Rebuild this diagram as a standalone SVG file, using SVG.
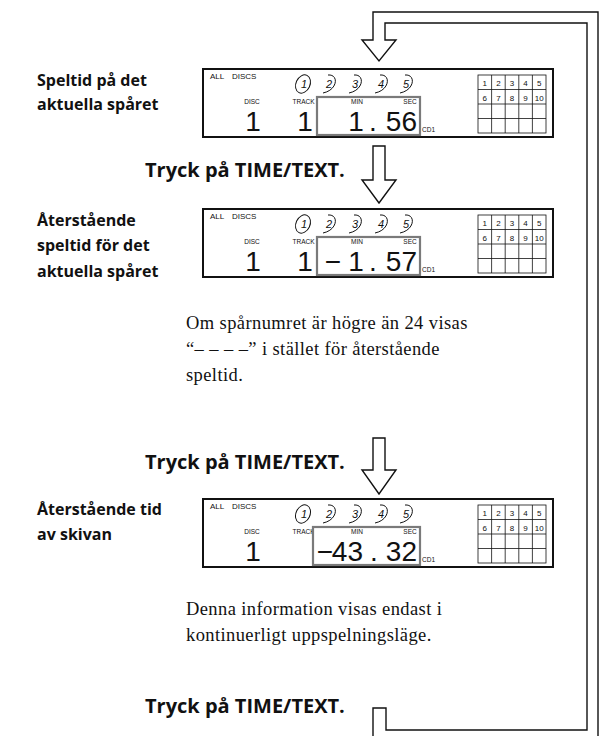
<svg xmlns="http://www.w3.org/2000/svg" xmlns:xlink="http://www.w3.org/1999/xlink" width="602" height="736" viewBox="0 0 602 736">
<style>
.lbl{font-family:"Open Sans","Liberation Sans",sans-serif;font-weight:bold;font-size:16px;fill:#111}
.step{font-family:"Open Sans","Liberation Sans",sans-serif;font-weight:bold;font-size:20px;fill:#111}
.para{font-family:"Liberation Serif","DejaVu Serif",serif;font-size:18.5px;letter-spacing:0.4px;fill:#111}
.sm{font-family:"Liberation Sans",Arial,sans-serif;font-size:6.5px;fill:#111}
.all{font-family:"Liberation Sans",Arial,sans-serif;font-size:8px;fill:#111}
.grid{font-family:"Liberation Sans",Arial,sans-serif;font-size:8px;fill:#111;text-anchor:middle}
.dig{font-family:"Liberation Sans",Arial,sans-serif;font-size:28px;fill:#111}
.disc{font-family:"Liberation Sans",Arial,sans-serif;font-size:11px;font-style:italic;fill:#111;text-anchor:middle}
.frame{fill:#fff;stroke:#111;stroke-width:2}
.gbox{fill:#fff;stroke:#7a7a7a;stroke-width:2.2}
.thin{fill:none;stroke:#111;stroke-width:1}
.cell{fill:none;stroke:#111;stroke-width:0.8}
.arrow{fill:#fff;stroke:#111;stroke-width:1.4;stroke-linejoin:miter}
</style>
<defs>
<g id="lcd-base">
<rect class="frame" x="0" y="0" width="350" height="68"/>
<text class="all" x="7" y="10">ALL</text>
<text class="all" x="29" y="10">DISCS</text>
<g>
<ellipse class="thin" cx="100" cy="15" rx="7" ry="9.5" transform="rotate(25 100 15)"/>
<text class="disc" x="101" y="19">1</text>
<text class="disc" x="126" y="19">2</text>
<path class="thin" d="M125,6 C136,5 135,21 120,24"/>
<text class="disc" x="152" y="19">3</text>
<path class="thin" d="M151,6 C162,5 161,21 146,24"/>
<text class="disc" x="178" y="19">4</text>
<path class="thin" d="M177,6 C188,5 187,21 172,24"/>
<text class="disc" x="203" y="19">5</text>
<path class="thin" d="M202,6 C213,5 212,21 197,24"/>
</g>
<text class="sm" x="49" y="35" text-anchor="middle">DISC</text>
<text class="sm" x="100.5" y="35" text-anchor="middle">TRACK</text>
<text class="sm" x="219" y="63" font-size="5">CD1</text>
<g>
<rect class="cell" x="275" y="6" width="68" height="58"/>
<line class="cell" x1="288.6" y1="6" x2="288.6" y2="64"/>
<line class="cell" x1="302.2" y1="6" x2="302.2" y2="64"/>
<line class="cell" x1="315.8" y1="6" x2="315.8" y2="64"/>
<line class="cell" x1="329.4" y1="6" x2="329.4" y2="64"/>
<line class="cell" x1="275" y1="20.5" x2="343" y2="20.5"/>
<line class="cell" x1="275" y1="35" x2="343" y2="35"/>
<line class="cell" x1="275" y1="49.5" x2="343" y2="49.5"/>
<text class="grid" x="281.8" y="17">1</text>
<text class="grid" x="295.4" y="17">2</text>
<text class="grid" x="309" y="17">3</text>
<text class="grid" x="322.6" y="17">4</text>
<text class="grid" x="336.2" y="17">5</text>
<text class="grid" x="281.8" y="31.5">6</text>
<text class="grid" x="295.4" y="31.5">7</text>
<text class="grid" x="309" y="31.5">8</text>
<text class="grid" x="322.6" y="31.5">9</text>
<text class="grid" x="336.2" y="31.5">10</text>
</g>
<text class="dig" x="50" y="62" text-anchor="middle">1</text>
</g>
</defs>

<g id="connectors">
<path class="arrow" d="M373,741 V708 H386 V730 H587 V23 H385 V40 H396 L379,61 L362,40 H373 V12 H598 V741"/>
<path class="arrow" d="M373,146 H385 V180 H396 L379,203 L362,180 H373 Z"/>
<path class="arrow" d="M373,438 H385 V470 H396 L379,494 L362,470 H373 Z"/>
</g>

<g id="label-1">
<text class="lbl" x="37" y="86">Speltid på det</text>
<text class="lbl" x="37" y="110">aktuella spåret</text>
</g>
<g id="display-1" transform="translate(203,69)">
<use xlink:href="#lcd-base"/>
<text class="dig" x="102" y="62" text-anchor="middle">1</text>
<rect class="gbox" x="114" y="28" width="103" height="38"/>
<text class="sm" x="154" y="35" text-anchor="middle">MIN</text>
<text class="sm" x="207" y="35" text-anchor="middle">SEC</text>
<text class="dig" x="153" y="62" text-anchor="middle">1</text>
<text class="dig" x="170" y="62" text-anchor="middle">.</text>
<text class="dig" x="214" y="62" text-anchor="end">56</text>
</g>

<g id="step-1">
<text class="step" x="145" y="177">Tryck på TIME/TEXT.</text>
</g>

<g id="label-2">
<text class="lbl" x="37" y="226">Återstående</text>
<text class="lbl" x="37" y="251">speltid för det</text>
<text class="lbl" x="37" y="277">aktuella spåret</text>
</g>
<g id="display-2" transform="translate(203,209)">
<use xlink:href="#lcd-base"/>
<text class="dig" x="102" y="62" text-anchor="middle">1</text>
<rect class="gbox" x="114" y="28" width="103" height="38"/>
<text class="sm" x="154" y="35" text-anchor="middle">MIN</text>
<text class="sm" x="207" y="35" text-anchor="middle">SEC</text>
<text class="dig" x="130" y="62" text-anchor="middle">−</text>
<text class="dig" x="153" y="62" text-anchor="middle">1</text>
<text class="dig" x="170" y="62" text-anchor="middle">.</text>
<text class="dig" x="214" y="62" text-anchor="end">57</text>
</g>

<g id="note-1">
<text class="para" x="186" y="329">Om spårnumret är högre än 24 visas</text>
<text class="para" x="186" y="355">“– – – –” i stället för återstående</text>
<text class="para" x="186" y="381">speltid.</text>
</g>

<g id="step-2">
<text class="step" x="145" y="469">Tryck på TIME/TEXT.</text>
</g>

<g id="label-3">
<text class="lbl" x="37" y="515">Återstående tid</text>
<text class="lbl" x="37" y="540">av skivan</text>
</g>
<g id="display-3" transform="translate(203,499)">
<use xlink:href="#lcd-base"/>
<rect class="gbox" x="110" y="28" width="107" height="38"/>
<text class="sm" x="154" y="35" text-anchor="middle">MIN</text>
<text class="sm" x="207" y="35" text-anchor="middle">SEC</text>
<text class="dig" x="122" y="62" text-anchor="middle">−</text>
<text class="dig" x="160" y="62" text-anchor="end">43</text>
<text class="dig" x="171" y="62" text-anchor="middle">.</text>
<text class="dig" x="214" y="62" text-anchor="end">32</text>
</g>

<g id="note-2">
<text class="para" x="186" y="615">Denna information visas endast i</text>
<text class="para" x="186" y="641">kontinuerligt uppspelningsläge.</text>
</g>

<g id="step-3">
<text class="step" x="145" y="713">Tryck på TIME/TEXT.</text>
</g>
</svg>
